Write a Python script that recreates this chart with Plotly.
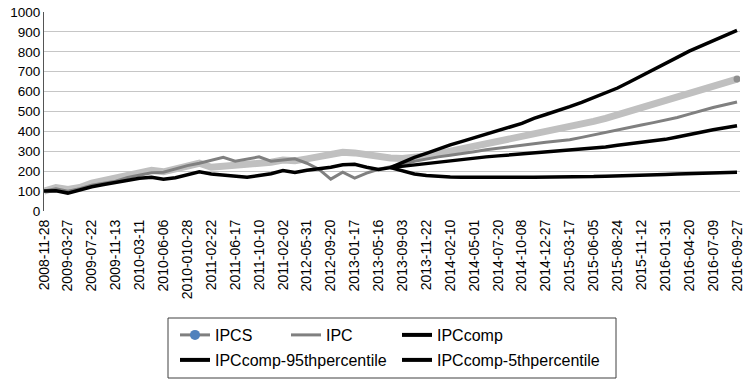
import plotly.graph_objects as go

# ---- data -------------------------------------------------------------
tick_labels = [
    "2008-11-28", "2009-03-27", "2009-07-22", "2009-11-13", "2010-03-11",
    "2010-06-06", "2010-010-28", "2011-02-22", "2011-06-17", "2011-10-10",
    "2011-02-02", "2012-05-31", "2012-09-20", "2013-01-17", "2013-05-16",
    "2013-09-03", "2013-11-22", "2014-02-10", "2014-05-01", "2014-07-20",
    "2014-10-08", "2014-12-27", "2015-03-17", "2015-06-05", "2015-08-24",
    "2015-11-12", "2016-01-31", "2016-04-20", "2016-07-09", "2016-09-27",
]
points_per_label = 2

ipcs = [100, 118, 108, 118, 140, 152, 165, 180, 190, 205, 197, 210, 225, 240,
        220, 225, 222, 228, 235, 245, 256, 252, 262, 272, 283, 295, 292, 281,
        275, 266,
        264, 268, 276, 288, 300, 312, 325, 338, 350, 362, 375, 388, 398, 410,
        420, 435, 450, 466, 484, 500, 518, 535, 553, 572, 590, 610, 628, 645,
        663]

ipc = [100, 112, 100, 112, 130, 140, 150, 168, 180, 192, 195, 212, 228, 240,
       255, 270, 250, 262, 272, 250, 255, 262, 240, 210, 160, 195, 165, 190,
       210, 222,
       235, 250, 262, 272, 280, 288, 298, 308, 316, 325, 332, 340, 346, 352,
       358, 370, 383, 395, 407, 419, 432, 444, 456, 470, 487, 505, 520, 534,
       548]

ipccomp = [100, 102, 90, 108, 122, 133, 145, 155, 165, 170, 160, 167, 180, 197,
           186, 182, 178, 170, 178, 187, 203, 193, 205, 212, 220, 232, 235, 220,
           209, 218,
           225, 232, 240, 248, 254, 260, 266, 272, 277, 282, 287, 292, 296, 300,
           304, 310, 316, 322, 330, 337, 344, 352, 360, 372, 385, 397, 408, 418,
           428]

# percentile bands start where the history ends
p95 = [218, 245, 270, 290, 312, 332, 350, 367, 387, 405, 422, 440, 466, 485,
       503, 524, 546, 570, 592, 618, 648, 680, 712, 742, 772, 803, 830, 856,
       882, 908]
p5 = [218, 200, 186, 178, 173, 171, 170, 169, 169, 169, 169, 169, 170, 170,
      170, 171, 172, 173, 175, 176, 178, 180, 182, 184, 186, 188, 190, 192,
      193, 195]

# ---- build ------------------------------------------------------------
steps = list(range(len(ipcs)))
band_x = steps[len(steps) - len(p95):]
tickvals = steps[::points_per_label]

FONT = "Liberation Sans, Arial, sans-serif"
fig = go.Figure()

fig.add_trace(go.Scatter(x=steps, y=ipcs, mode="lines", name="IPCS",
                         line=dict(color="#c0c0c0", width=7),
                         showlegend=False, hoverinfo="skip"))
fig.add_trace(go.Scatter(x=[steps[-1]], y=[ipcs[-1]], mode="markers",
                         marker=dict(color="#8f8f8f", size=7),
                         showlegend=False, hoverinfo="skip"))
fig.add_trace(go.Scatter(x=steps, y=ipc, mode="lines", name="IPC",
                         line=dict(color="#808080", width=3),
                         showlegend=False))
fig.add_trace(go.Scatter(x=steps, y=ipccomp, mode="lines", name="IPCcomp",
                         line=dict(color="#000000", width=3.5),
                         showlegend=False))
fig.add_trace(go.Scatter(x=band_x, y=p95, mode="lines",
                         name="IPCcomp-95thpercentile",
                         line=dict(color="#000000", width=3.5),
                         showlegend=False))
fig.add_trace(go.Scatter(x=band_x, y=p5, mode="lines",
                         name="IPCcomp-5thpercentile",
                         line=dict(color="#000000", width=3.5),
                         showlegend=False))

# legend entries (styled like the original's legend keys)
fig.add_trace(go.Scatter(x=[None], y=[None], mode="lines+markers", name="IPCS",
                         line=dict(color="#7f7f7f", width=3),
                         marker=dict(color="#4f81bd", size=10),
                         legend="legend"))
fig.add_trace(go.Scatter(x=[None], y=[None], mode="lines", name="IPC",
                         line=dict(color="#808080", width=3), legend="legend"))
fig.add_trace(go.Scatter(x=[None], y=[None], mode="lines", name="IPCcomp",
                         line=dict(color="#000000", width=4), legend="legend"))
fig.add_trace(go.Scatter(x=[None], y=[None], mode="lines",
                         name="IPCcomp-95thpercentile",
                         line=dict(color="#000000", width=4), legend="legend2"))
fig.add_trace(go.Scatter(x=[None], y=[None], mode="lines",
                         name="IPCcomp-5thpercentile",
                         line=dict(color="#000000", width=4), legend="legend2"))

leg_common = dict(orientation="h", xref="container", yref="container",
                  xanchor="left", yanchor="top", bgcolor="rgba(0,0,0,0)",
                  borderwidth=0, font=dict(family=FONT, size=16, color="#000"),
                  entrywidthmode="pixels", itemwidth=30, traceorder="normal")

fig.update_layout(
    width=750, height=386,
    margin=dict(l=44, r=10, t=12, b=175, autoexpand=False),
    paper_bgcolor="white", plot_bgcolor="white",
    font=dict(family=FONT, size=13.5, color="#000"),
    showlegend=True,
    legend=dict(**leg_common, x=175 / 750, y=1 - 318 / 386, entrywidth=66),
    legend2=dict(**leg_common, x=175 / 750, y=1 - 343 / 386, entrywidth=177),
    xaxis=dict(range=[0, steps[-1] + 0.25], tickvals=tickvals,
               ticktext=tick_labels, tickangle=-90, showgrid=False,
               zeroline=False, showline=False, ticks="", automargin=False,
               ticklabelstandoff=5, tickfont=dict(size=14)),
    yaxis=dict(range=[0, 1000], dtick=100, showgrid=True,
               gridcolor="#c6c6c6", gridwidth=1, zeroline=True,
               zerolinecolor="white", zerolinewidth=2, showline=True,
               linecolor="#555555", linewidth=1, ticks="", automargin=False,
               tickfont=dict(size=13.5)),
    shapes=[dict(type="rect", xref="paper", yref="paper",
                 x0=(168 - 44) / 696, x1=(616 - 44) / 696,
                 y0=(211 - 378) / 199, y1=(211 - 318) / 199,
                 line=dict(color="#404040", width=1))],
)

fig.write_html("out.html",
               config={"displayModeBar": False},
               post_script="document.body.style.margin='0';"
                           "document.body.style.overflow='hidden';")
